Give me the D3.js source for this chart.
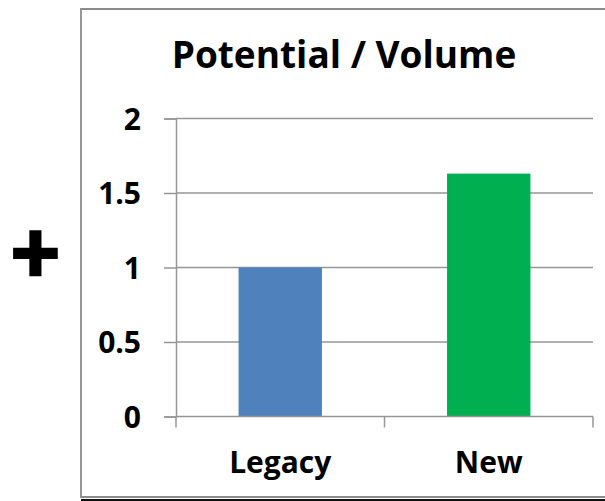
<!DOCTYPE html>
<html>
<head>
<meta charset="utf-8">
<script src="https://cdn.jsdelivr.net/npm/d3@7"></script>
<style>
  html, body { margin: 0; padding: 0; background: #fff; }
  svg { display: block; }
  text { font-family: "Open Sans", Lato, sans-serif; font-weight: 700; fill: #000; font-variant-ligatures: none; }
</style>
</head>
<body>
<svg id="chart" width="605" height="501"></svg>
<script>
// Chart data
const categories = ["Legacy", "New"];
const values = [1.0, 1.63];
const barColors = ["#4F81BD", "#00B050"];
const yTicks = [0, 0.5, 1, 1.5, 2];
const yTickLabels = ["0", "0.5", "1", "1.5", "2"];
const title = "Potential / Volume";

const svg = d3.select("#chart");
const W = 605, H = 501;

// Chart frame (extends past the right edge) with a dark drop shadow at the bottom
const frame = { left: 81, top: 9, bottom: 497 };
svg.append("rect")
  .attr("x", frame.left).attr("y", frame.bottom + 2)
  .attr("width", W).attr("height", 3)
  .attr("fill", "#111");
svg.append("path")
  .attr("d", `M${W + 5},${frame.top} H${frame.left} V${frame.bottom} H${W + 5}`)
  .attr("fill", "none").attr("stroke", "#8c8c8c").attr("stroke-width", 1.8);

// Plot area
const plot = { left: 176, right: 593, top: 118.5, bottom: 416.5 };

const x = d3.scaleBand()
  .domain(categories)
  .range([plot.left, plot.right])
  .paddingInner(0.6)
  .paddingOuter(0.3);

const y = d3.scaleLinear()
  .domain([0, 2])
  .range([plot.bottom, plot.top]);

// Horizontal gridlines
svg.append("g")
  .selectAll("line")
  .data(yTicks.filter(d => d > 0))
  .join("line")
  .attr("x1", plot.left).attr("x2", plot.right)
  .attr("y1", d => y(d)).attr("y2", d => y(d))
  .attr("stroke", "#969696").attr("stroke-width", 1.5);

// Bars
svg.append("g")
  .selectAll("rect")
  .data(values)
  .join("rect")
  .attr("x", (d, i) => x(categories[i]))
  .attr("width", x.bandwidth())
  .attr("y", d => y(d))
  .attr("height", d => y(0) - y(d))
  .attr("fill", (d, i) => barColors[i]);

// Y axis
const yAxis = d3.axisLeft(y)
  .tickValues(yTicks)
  .tickFormat((d, i) => yTickLabels[i])
  .tickSize(12)
  .tickPadding(23);
const gy = svg.append("g")
  .attr("transform", `translate(${plot.left},0)`)
  .call(yAxis);
gy.select(".domain").attr("stroke", "#969696").attr("stroke-width", 1.5);
gy.selectAll(".tick line").attr("stroke", "#969696").attr("stroke-width", 1.5);
gy.selectAll(".tick text")
  .attr("font-family", null)
  .attr("font-size", null)
  .style("font-size", "30px")
  .attr("dy", "0.36em");

// X axis: baseline plus ticks on the category boundaries
const gx = svg.append("g");
gx.append("line")
  .attr("x1", plot.left).attr("x2", plot.right)
  .attr("y1", plot.bottom).attr("y2", plot.bottom)
  .attr("stroke", "#969696").attr("stroke-width", 1.5);
const boundaries = [plot.left, ...categories.map(c => x(c) + x.bandwidth() / 2 + x.step() / 2)];
gx.selectAll("line.tick")
  .data(boundaries)
  .join("line")
  .attr("class", "tick")
  .attr("x1", d => d).attr("x2", d => d)
  .attr("y1", plot.bottom).attr("y2", plot.bottom + 11)
  .attr("stroke", "#969696").attr("stroke-width", 1.5);
gx.selectAll("text")
  .data(categories)
  .join("text")
  .attr("x", d => x(d) + x.bandwidth() / 2)
  .attr("y", 473)
  .attr("text-anchor", "middle")
  .style("font-size", "30px")
  .text(d => d);

// Title
svg.append("text")
  .attr("x", 344)
  .attr("y", 67.5)
  .attr("text-anchor", "middle")
  .style("font-size", "37px")
  .text(title);

// Plus sign to the left of the chart
svg.append("text")
  .attr("x", 35.5)
  .attr("y", 254)
  .attr("text-anchor", "middle")
  .attr("dy", "0.32em")
  .style("font-family", "Lato, sans-serif")
  .style("font-size", "86px")
  .style("font-weight", 900)
  .attr("stroke", "#000")
  .attr("stroke-width", 2.5)
  .text("+");
</script>
</body>
</html>
